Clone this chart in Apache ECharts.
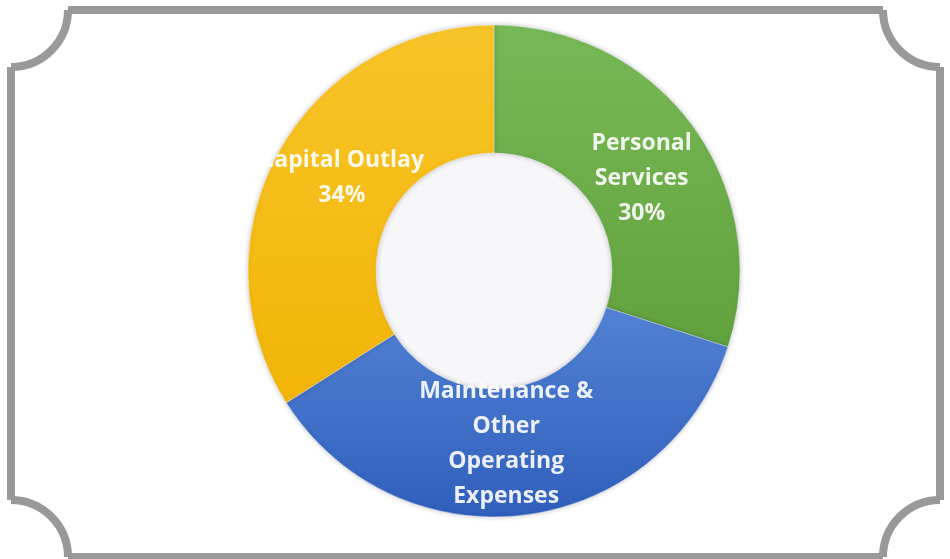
<!DOCTYPE html>
<html>
<head>
<meta charset="utf-8">
<script src="https://cdn.jsdelivr.net/npm/echarts@6/dist/echarts.min.js"></script>
<style>
  html, body { margin: 0; padding: 0; background: #ffffff; }
  #chart { width: 950px; height: 559px; }
</style>
</head>
<body>
<div id="chart"></div>
<script>
// Budget breakdown by expense class
const categories = [
  'Personal\nServices',
  'Maintenance &\nOther\nOperating\nExpenses',
  'Capital Outlay'
];
const shares = [30, 36, 34];

// Slice fills, light to dark (top to bottom)
const sliceColors = [
  ['#78b957', '#61a23d'],
  ['#5282d4', '#2f5fbb'],
  ['#f7c428', '#f2b507']
];

// Nudges for the in-ring labels (dx, dy)
const labelNudges = [[-2, 16], [-11, 7], [10, -4]];

const chart = echarts.init(document.getElementById('chart'), null, { renderer: 'canvas' });

function grad(pair) {
  return {
    type: 'linear', x: 0, y: 0, x2: 0, y2: 1, global: false,
    colorStops: [
      { offset: 0, color: pair[0] },
      { offset: 1, color: pair[1] }
    ]
  };
}

// Frame with concave (scalloped) corners, built from straight edges and arcs
const L = 11, T = 10, R = 940, B = 557, r = 57;
const frameStyle = { stroke: '#999999', lineWidth: 8, fill: null };
const PI = Math.PI;
function edge(x1, y1, x2, y2) {
  return { type: 'line', shape: { x1, y1, x2, y2 }, style: frameStyle, z: 100, silent: true };
}
function corner(cx, cy, a0, a1) {
  return {
    type: 'arc',
    shape: { cx, cy, r, startAngle: a0, endAngle: a1, clockwise: true },
    style: frameStyle, z: 100, silent: true
  };
}
const frame = [
  edge(L + r, T, R - r, T),
  edge(R, T + r, R, B - r),
  edge(L + r, B, R - r, B),
  edge(L, T + r, L, B - r),
  corner(L, T, 0, PI / 2),
  corner(R, T, PI / 2, PI),
  corner(R, B, PI, 1.5 * PI),
  corner(L, B, 1.5 * PI, 2 * PI)
];

chart.setOption({
  backgroundColor: '#ffffff',
  animation: false,
  graphic: frame,
  series: [
    {
      // light centre disc of the ring
      type: 'pie',
      silent: true,
      center: [494, 270],
      radius: [0, 119],
      label: { show: false },
      labelLine: { show: false },
      itemStyle: {
        color: '#f7f7f9',
        shadowBlur: 4,
        shadowColor: 'rgba(90,90,110,0.35)'
      },
      data: [{ value: 1, name: '' }],
      z: 1
    },
    {
      type: 'pie',
      center: [494, 271],
      radius: [118, 246],
      startAngle: 90,
      clockwise: true,
      z: 2,
      itemStyle: {
        borderColor: 'rgba(255,255,255,0.35)',
        borderWidth: 1,
        shadowBlur: 5,
        shadowColor: 'rgba(60,60,90,0.3)'
      },
      label: {
        show: true,
        position: 'inside',
        formatter: '{b}\n{d}%',
        color: 'rgba(255,255,255,0.9)',
        fontFamily: 'Open Sans',
        fontWeight: 'bold',
        fontSize: 23,
        lineHeight: 35,
        align: 'center'
      },
      labelLayout: function (params) {
        const n = labelNudges[params.dataIndex];
        return { dx: n[0], dy: n[1] };
      },
      labelLine: { show: false },
      data: categories.map((name, i) => ({
        name: name,
        value: shares[i],
        itemStyle: { color: grad(sliceColors[i]) }
      }))
    }
  ]
});
</script>
</body>
</html>
